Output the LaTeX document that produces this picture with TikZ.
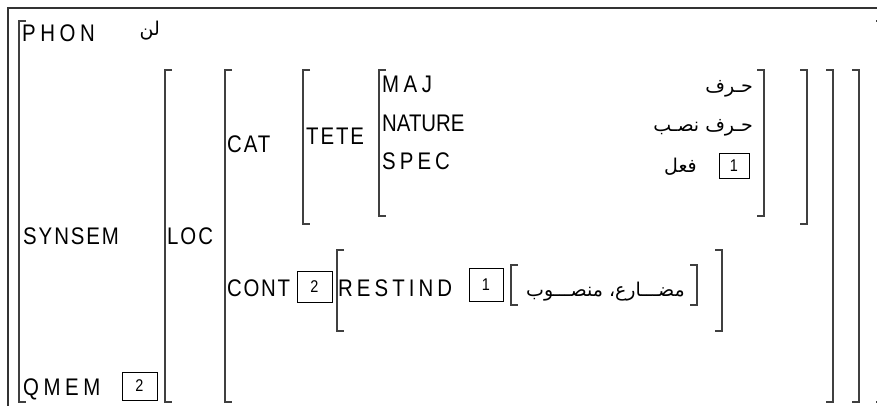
\documentclass[tikz,border=0pt]{standalone}
\usepackage{fontspec}
\setmainfont{Liberation Sans}[FakeStretch=0.85]
\newfontfamily\arabicfont[Script=Arabic]{DejaVu Sans}
\TeXXeTstate=1
\newcommand\ls[2]{{\addfontfeature{LetterSpace=#1}#2}}
\begin{document}
\begin{tikzpicture}[x=1pt,y=-1pt,
  lbl/.style={font=\fontsize{24}{28}\selectfont, inner sep=0pt, anchor=base west},
  ara/.style={font=\fontsize{19}{24}\selectfont\arabicfont, inner sep=0pt, anchor=base east},
  numbox/.style={draw, line width=0.9pt, inner sep=0pt, font=\fontsize{17}{20}\selectfont},
  brk/.style={draw=black!75, line width=1.3pt},
  frm/.style={draw=black!80, line width=1.5pt}]
\useasboundingbox (0,0) rectangle (877,406);
% frame
\draw[frm] (8,406) -- (8,8) -- (877,8);
% brackets
\newcommand\lb[3]{\draw[brk] (#1+7,#2) -- (#1,#2) -- (#1,#3) -- (#1+7,#3);}
\newcommand\rb[3]{\draw[brk] (#1-7,#2) -- (#1,#2) -- (#1,#3) -- (#1-7,#3);}
\lb{19}{21}{402} \rb{883}{21}{402}
\lb{165}{70}{402} \rb{859}{70}{402}
\lb{225}{70}{402} \rb{833}{70}{402}
\lb{303}{70}{224} \rb{807}{70}{224}
\lb{379}{70}{216} \rb{764}{70}{216}
\lb{337}{250}{331} \rb{722}{250}{331}
\lb{511}{265}{305} \rb{697}{265}{305}
% labels
\node[lbl] (phon) at (22,42) {\ls{19}{PHON}};
\node[ara] (lan) at (160,36) {\beginR لن\endR};
\node[lbl] (synsem) at (23,244) {\ls{8}{SYNSEM}};
\node[lbl] (qmem) at (23,395) {\ls{19}{QMEM}};
\node[numbox, minimum width=35pt, minimum height=28pt] (b2a) at (139.5,386) {2};
\node[lbl] (loc) at (167,244) {\ls{8}{LOC}};
\node[lbl] (cat) at (227,153) {\ls{8}{CAT}};
\node[lbl] (tete) at (306,145) {\ls{8}{TETE}};
\node[lbl] (maj) at (382,93) {\ls{19}{MAJ}};
\node[lbl] (nature) at (382,132) {NATURE};
\node[lbl] (spec) at (382,170) {\ls{17}{SPEC}};
\node[ara] (harf) at (753,93) {\beginR حـرف\endR};
\node[ara] (harfnasb) at (753,132) {\beginR حـرف نصـب\endR};
\node[ara] (fial) at (697,172) {\beginR فعل\endR};
\node[numbox, minimum width=30pt, minimum height=25pt] (b1a) at (734,165.5) {1};
\node[lbl] (cont) at (227,296) {\ls{7}{CONT}};
\node[numbox, minimum width=35pt, minimum height=31pt] (b2b) at (314.5,286.5) {2};
\node[lbl] (restind) at (338,296) {\ls{17}{RESTIND}};
\node[numbox, minimum width=34pt, minimum height=33pt] (b1b) at (486,284.5) {1};
\node[ara] (mudari) at (685,296) {\beginR مضـــارع، منصـــوب\endR};
\end{tikzpicture}
\end{document}
